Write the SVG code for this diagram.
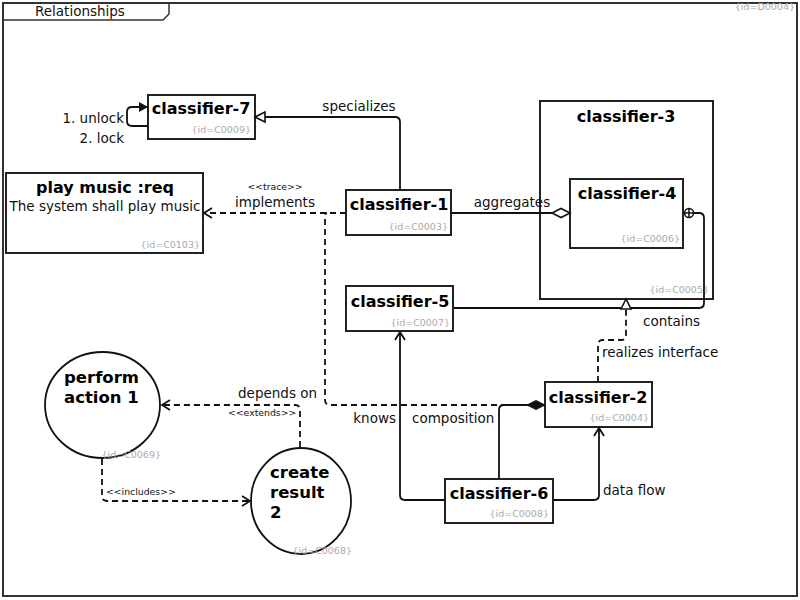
<svg xmlns="http://www.w3.org/2000/svg" width="800" height="600" viewBox="0 0 800 600">
<style>
text{font-family:"DejaVu Sans","Liberation Sans",sans-serif;}
.frame{fill:none;stroke:#333;stroke-width:2;}
.box{fill:#fff;stroke:#222;stroke-width:2;}
.title{font-size:16px;font-weight:bold;fill:#000;text-anchor:middle;}
.etitle{font-size:16.5px;font-weight:bold;fill:#000;}
.id{font-size:9.5px;fill:#aaa;text-anchor:end;}
.lbl{font-size:13.5px;fill:#111;}
.st{font-size:9.3px;fill:#111;}
.ln{fill:none;stroke:#111;stroke-width:1.8;}
.dash{stroke-dasharray:6,4;}
</style>
<defs>
<marker id="open" markerUnits="userSpaceOnUse" markerWidth="12" markerHeight="12" refX="8" refY="5" orient="auto" overflow="visible">
<path d="M0,0 L8,5 L0,10" fill="none" stroke="#111" stroke-width="1.8" stroke-dasharray="none"/>
</marker>
<marker id="filled" markerUnits="userSpaceOnUse" markerWidth="12" markerHeight="12" refX="9" refY="5" orient="auto" overflow="visible">
<path d="M0,0 L9,5 L0,10 z" fill="#111" stroke="none"/>
</marker>
<marker id="tri" markerUnits="userSpaceOnUse" markerWidth="14" markerHeight="14" refX="10" refY="5" orient="auto" overflow="visible">
<path d="M0,0 L10,5 L0,10 z" fill="#fff" stroke="#111" stroke-width="1.6" stroke-dasharray="none"/>
</marker>
<marker id="dia" markerUnits="userSpaceOnUse" markerWidth="20" markerHeight="12" refX="18" refY="5" orient="auto" overflow="visible">
<path d="M0,5 L9,0.5 L18,5 L9,9.5 z" fill="#fff" stroke="#111" stroke-width="1.6"/>
</marker>
<marker id="diaf" markerUnits="userSpaceOnUse" markerWidth="20" markerHeight="12" refX="18" refY="5" orient="auto" overflow="visible">
<path d="M0,5 L9,0.5 L18,5 L9,9.5 z" fill="#111" stroke="#111" stroke-width="1"/>
</marker>
<marker id="cplus" markerUnits="userSpaceOnUse" markerWidth="12" markerHeight="12" refX="10" refY="5" orient="auto" overflow="visible">
<circle cx="5" cy="5" r="4.5" fill="#fff" stroke="#111" stroke-width="1.5"/>
<path d="M0.5,5 H9.5 M5,0.5 V9.5" stroke="#111" stroke-width="1.5"/>
</marker>
</defs>
<rect x="0" y="0" width="800" height="600" fill="#fff"/>
<g id="frame">
<rect class="frame" x="3" y="3" width="794" height="593"/>
<path d="M3,20 H163 L169,14 V3" fill="none" stroke="#333" stroke-width="1.5"/>
<text class="lbl" x="35" y="16">Relationships</text>
<text class="id" x="795" y="10">{id=D0004}</text>
</g>
<g id="classifier-7">
<rect class="box" x="148" y="95" width="107" height="44"/>
<text class="title" x="201" y="114">classifier-7</text>
<text class="id" x="251" y="133">{id=C0009}</text>
</g>
<g id="play-music">
<rect class="box" x="6" y="173" width="197" height="80"/>
<text class="title" x="105" y="193">play music :req</text>
<text class="lbl" x="105" y="211" text-anchor="middle">The system shall play music</text>
<text class="id" x="200" y="248">{id=C0103}</text>
</g>
<g id="classifier-1">
<rect class="box" x="346" y="190" width="105" height="45"/>
<text class="title" x="399" y="210">classifier-1</text>
<text class="id" x="448" y="230">{id=C0003}</text>
</g>
<g id="classifier-3">
<rect class="box" x="540" y="101" width="173" height="198"/>
<text class="title" x="626" y="122">classifier-3</text>
<text class="id" x="709" y="293">{id=C0005}</text>
</g>
<g id="classifier-4">
<rect class="box" x="570" y="179" width="113" height="69"/>
<text class="title" x="627" y="199">classifier-4</text>
<text class="id" x="680" y="242">{id=C0006}</text>
</g>
<g id="classifier-5">
<rect class="box" x="346" y="286" width="107" height="45"/>
<text class="title" x="400" y="307">classifier-5</text>
<text class="id" x="450" y="326">{id=C0007}</text>
</g>
<g id="classifier-2">
<rect class="box" x="545" y="382" width="107" height="45"/>
<text class="title" x="598" y="403">classifier-2</text>
<text class="id" x="649" y="421">{id=C0004}</text>
</g>
<g id="classifier-6">
<rect class="box" x="445" y="479" width="108" height="44"/>
<text class="title" x="499" y="499">classifier-6</text>
<text class="id" x="549" y="517">{id=C0008}</text>
</g>
<g id="perform-action-1">
<ellipse cx="102.5" cy="405" rx="57.5" ry="53" fill="#fff" stroke="#111" stroke-width="1.8"/>
<text class="etitle" x="64" y="383">perform</text>
<text class="etitle" x="64" y="403">action 1</text>
<text class="id" x="161" y="458">{id=C0069}</text>
</g>
<g id="create-result-2">
<ellipse cx="301" cy="501" rx="50" ry="53" fill="#fff" stroke="#111" stroke-width="1.8"/>
<text class="etitle" x="270" y="478">create</text>
<text class="etitle" x="270" y="498">result</text>
<text class="etitle" x="270" y="518">2</text>
<text class="id" x="352" y="554">{id=C0068}</text>
</g>
<g id="connectors">
<path id="c-self" class="ln" d="M148,126 H132 Q127,126 127,121 V112 Q127,107 132,107 H148" marker-end="url(#filled)"/>
<path id="c-specializes" class="ln" d="M400,190 V122 Q400,117 395,117 H255" marker-end="url(#tri)"/>
<path id="c-trace" class="ln dash" d="M346,213 H204" marker-end="url(#open)"/>
<path id="c-depends" class="ln dash" d="M527,405 H330 Q325,405 325,400 V218 Q325,213 327,213"/>
<path id="c-extends" class="ln dash" d="M300,447 V410 Q300,405 295,405 H162" marker-end="url(#open)"/>
<path id="c-includes" class="ln dash" d="M102,459 V496 Q102,501 107,501 H250" marker-end="url(#open)"/>
<path id="c-aggregates" class="ln" d="M451,213 H570" marker-end="url(#dia)"/>
<path id="c-contains" class="ln" d="M454,308 H699 Q704,308 704,303 V218 Q704,213 699,213 H684" marker-end="url(#cplus)"/>
<path id="c-realizes" class="ln dash" d="M598,382 V345 Q598,340 603,340 H621 Q626,340 626,335 V299" marker-end="url(#tri)"/>
<path id="c-composition" class="ln" d="M499,479 V410 Q499,405 504,405 H545" marker-end="url(#diaf)"/>
<path id="c-knows" class="ln" d="M445,500 H405 Q400,500 400,495 V332" marker-end="url(#open)"/>
<path id="c-dataflow" class="ln" d="M553,500 H594 Q599,500 599,495 V428" marker-end="url(#open)"/>
<text class="lbl" x="124" y="123" text-anchor="end">1. unlock</text>
<text class="lbl" x="124" y="143" text-anchor="end">2. lock</text>
<text class="lbl" x="359" y="111" text-anchor="middle">specializes</text>
<text class="st" x="275" y="190" text-anchor="middle">&lt;&lt;trace&gt;&gt;</text>
<text class="lbl" x="275" y="207" text-anchor="middle">implements</text>
<text class="lbl" x="512" y="207" text-anchor="middle">aggregates</text>
<text class="lbl" x="643" y="326">contains</text>
<text class="lbl" x="602" y="357">realizes interface</text>
<text class="lbl" x="238" y="398">depends on</text>
<text class="st" x="228" y="416">&lt;&lt;extends&gt;&gt;</text>
<text class="lbl" x="396" y="423" text-anchor="end">knows</text>
<text class="lbl" x="412" y="423">composition</text>
<text class="lbl" x="603" y="495">data flow</text>
<text class="st" x="106" y="495">&lt;&lt;includes&gt;&gt;</text>
</g>
</svg>
